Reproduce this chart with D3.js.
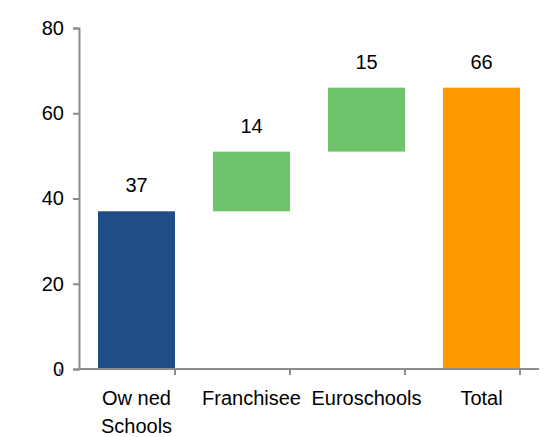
<!DOCTYPE html>
<html>
<head>
<meta charset="utf-8">
<script src="https://cdn.jsdelivr.net/npm/d3@7"></script>
<style>
  html, body { margin: 0; padding: 0; background: #fff; }
  svg { display: block; font-family: Arial, "Liberation Sans", sans-serif; }
</style>
</head>
<body>
<svg id="chart" width="552" height="437"></svg>
<script>
// Waterfall: owned schools + franchisee + Euroschools = total
const categories = ["Ow ned\nSchools", "Franchisee", "Euroschools", "Total"];
const values = [37, 14, 15, 66];
const kinds = ["base", "step", "step", "total"];
const yTicks = [0, 20, 40, 60, 80];

const colors = { base: "#1f4e87", step: "#6fc46b", total: "#ff9900" };
const axisColor = "#8c8c8c";

const svg = d3.select("#chart");
const plotLeft = 79, plotRight = 539, plotTop = 28, plotBottom = 369;

const x = d3.scaleBand().domain(categories).range([plotLeft, plotRight])
  .paddingInner(0.33).paddingOuter(0.165);
const y = d3.scaleLinear().domain([0, 80]).range([plotBottom, plotTop]);

// Running totals give each bar its start and end
let running = 0;
const bars = categories.map((c, i) => {
  let y0, y1;
  if (kinds[i] === "step") { y0 = running; y1 = running + values[i]; running = y1; }
  else if (kinds[i] === "base") { y0 = 0; y1 = values[i]; running = y1; }
  else { y0 = 0; y1 = values[i]; }
  return { c, v: values[i], y0, y1, kind: kinds[i] };
});

svg.append("g").selectAll("rect").data(bars).join("rect")
  .attr("x", d => x(d.c))
  .attr("width", x.bandwidth())
  .attr("y", d => y(d.y1))
  .attr("height", d => y(d.y0) - y(d.y1))
  .attr("fill", d => colors[d.kind]);

svg.append("g").selectAll("text").data(bars).join("text")
  .attr("x", d => x(d.c) + x.bandwidth() / 2)
  .attr("y", d => y(d.y1) - 19)
  .attr("text-anchor", "middle")
  .attr("font-size", 20)
  .attr("fill", "#000")
  .text(d => d.v);

// Y axis
const yAxis = svg.append("g").attr("transform", `translate(${plotLeft},0)`)
  .call(d3.axisLeft(y).tickValues(yTicks).tickSize(6).tickPadding(9));
yAxis.select(".domain").attr("stroke", axisColor).attr("stroke-width", 2);
yAxis.selectAll(".tick line").attr("stroke", axisColor).attr("stroke-width", 2);
yAxis.selectAll(".tick text").attr("font-size", 20).attr("fill", "#000")
  .attr("font-family", "Arial, 'Liberation Sans', sans-serif");

// X axis: boundary ticks between categories
const xg = svg.append("g");
xg.append("line").attr("x1", plotLeft).attr("x2", plotRight).attr("y1", plotBottom).attr("y2", plotBottom)
  .attr("stroke", axisColor).attr("stroke-width", 2);
const step = x.step();
const firstEdge = x(categories[0]) - x.paddingOuter() * step - (x.paddingInner() * step) / 2;
const bounds = d3.range(categories.length + 1).map(i => firstEdge + i * step);
xg.selectAll("line.tk").data(bounds).join("line").attr("class", "tk")
  .attr("x1", d => d).attr("x2", d => d)
  .attr("y1", plotBottom).attr("y2", plotBottom + 6)
  .attr("stroke", axisColor).attr("stroke-width", 2);

const labels = xg.selectAll("text").data(categories).join("text")
  .attr("x", d => x(d) + x.bandwidth() / 2)
  .attr("y", 405)
  .attr("text-anchor", "middle")
  .attr("font-size", 20)
  .attr("fill", "#000");
labels.each(function(d) {
  const t = d3.select(this);
  d.split("\n").forEach((line, i) => {
    t.append("tspan").attr("x", x(d) + x.bandwidth() / 2).attr("dy", i === 0 ? 0 : 28).text(line);
  });
});
</script>
</body>
</html>
